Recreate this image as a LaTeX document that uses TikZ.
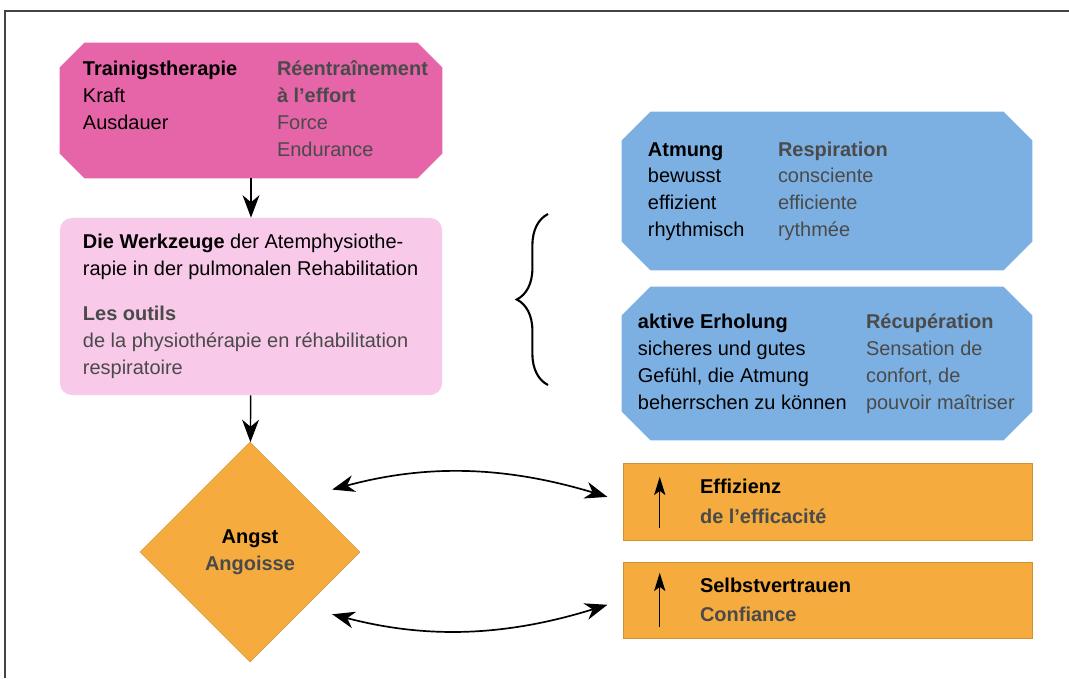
\documentclass[tikz,border=0pt]{standalone}
\usepackage{fontspec}
\setmainfont{Liberation Sans}
\usetikzlibrary{shapes.geometric, arrows.meta, positioning, decorations.pathreplacing, calc}

\definecolor{trainpink}{HTML}{E565A8}
\definecolor{toolpink}{HTML}{F8C9E8}
\definecolor{breathblue}{HTML}{7DB0E2}
\definecolor{angstorange}{HTML}{F5AB3E}
\definecolor{frtext}{HTML}{4A4A4A}
\definecolor{framegrey}{HTML}{444444}

\newcommand{\frtxt}[1]{\textcolor{frtext}{#1}}
% fill a named box with cut corners: node, colour, cut
\newcommand{\chamfill}[3]{%
	\fill[#2] ([xshift=#3]#1.north west) -- ([xshift=-#3]#1.north east) -- ([yshift=-#3]#1.north east)
		-- ([yshift=#3]#1.south east) -- ([xshift=-#3]#1.south east) -- ([xshift=#3]#1.south west)
		-- ([yshift=#3]#1.south west) -- ([yshift=-#3]#1.north west) -- cycle;}

\begin{document}
\begin{tikzpicture}[x=0.025cm, y=-0.025cm]

	\tikzstyle{trainbox} = [rectangle, minimum width=9.55cm, minimum height=3.375cm, inner sep=0pt]
	\tikzstyle{toolbox} = [rectangle, rounded corners=0.3cm, minimum width=9.55cm, minimum height=4.425cm, inner sep=0pt, fill=toolpink]
	\tikzstyle{bluebox} = [rectangle, minimum width=10.25cm, inner sep=0pt]
	\tikzstyle{orangebox} = [rectangle, minimum width=10.225cm, inner sep=0pt, fill=angstorange, draw=angstorange!85!black, line width=0.3pt]
	\tikzstyle{angstdia} = [diamond, aspect=1, minimum width=5.5cm, minimum height=5.5cm, inner sep=0pt, fill=angstorange, draw=angstorange!85!black, line width=0.3pt, align=center, font=\fontsize{14.2}{19.1}\selectfont\bfseries]
	\tikzstyle{boxtext} = [inner sep=0pt, align=left, font=\fontsize{14.2}{19.1}\selectfont]
	\tikzstyle{arrow} = [line width=1pt, -{Stealth[length=16pt, width=12pt, inset=5pt]}]
	\tikzstyle{dblarrow} = [line width=1.2pt, {Stealth[length=16pt, width=12pt, inset=5pt]}-{Stealth[length=16pt, width=12pt, inset=5pt]}]
	\tikzstyle{uparrow} = [line width=1pt, -{Stealth[length=13pt, width=8pt, inset=3pt]}]
	\tikzstyle{bracket} = [decorate, decoration={brace, amplitude=0.78cm}, line width=1.5pt]

	\useasboundingbox (0,0) rectangle (1069,678);
	\draw [framegrey, line width=1.4pt] (1069,11) -- (5,11) -- (5,678);

	% Nodes
	\node (train) [trainbox] at (251,110.5) {};
	\node (tools) [toolbox] at (251,306.5) {};
	\node (atm) [bluebox, minimum height=3.95cm] at (827,191) {};
	\node (erh) [bluebox, minimum height=3.825cm] at (827,363.5) {};
	\node (eff) [orangebox, minimum height=1.925cm] at (827.5,501.5) {};
	\node (conf) [orangebox, minimum height=1.9cm] at (827.5,600) {};
	\node (angst) [angstdia] at (250,552) {Angst\\\frtxt{Angoisse}};

	\chamfill{train}{trainpink}{0.62cm}
	\chamfill{atm}{breathblue}{0.72cm}
	\chamfill{erh}{breathblue}{0.72cm}

	% Texts
	\node (traintxt) [boxtext, right=0.575cm of train.west] {%
		\begin{tabular}{@{}p{4.85cm}@{}l@{}}
			\textbf{Trainigstherapie} & \frtxt{\textbf{Réentraînement}}\\
			Kraft & \frtxt{\textbf{à l’effort}}\\
			Ausdauer & \frtxt{Force}\\
			& \frtxt{Endurance}
		\end{tabular}};
	\node (toolstxt) [boxtext, right=0.575cm of tools.west] {%
		\textbf{Die Werkzeuge} der Atemphysiothe-\\
		rapie in der pulmonalen Rehabilitation\\[12.8pt]
		\frtxt{\textbf{Les outils}}\\
		\frtxt{de la physiothérapie en réhabilitation}\\
		\frtxt{respiratoire}};
	\node (atmtxt) [boxtext, right=0.65cm of atm.west] {%
		\begin{tabular}{@{}p{3.25cm}@{}l@{}}
			\textbf{Atmung} & \frtxt{\textbf{Respiration}}\\
			bewusst & \frtxt{consciente}\\
			effizient & \frtxt{efficiente}\\
			rhythmisch & \frtxt{rythmée}
		\end{tabular}};
	\node (erhtxt) [boxtext, right=0.4cm of erh.west] {%
		\begin{tabular}{@{}p{5.7cm}@{}l@{}}
			\textbf{aktive Erholung} & \frtxt{\textbf{Récupération}}\\
			sicheres und gutes & \frtxt{Sensation de}\\
			Gefühl, die Atmung & \frtxt{confort, de}\\
			beherrschen zu können & \frtxt{pouvoir maîtriser}
		\end{tabular}};
	\node (efftxt) [boxtext, right=1.925cm of eff.west] {%
		\textbf{Effizienz}\\[2pt]
		\frtxt{\textbf{de l’efficacité}}};
	\node (conftxt) [boxtext, right=1.925cm of conf.west] {%
		\textbf{Selbstvertrauen}\\[2pt]
		\frtxt{\textbf{Confiance}}};

	% Arrows
	\draw [arrow] (train) -- (tools);
	\draw [arrow] (tools) -- (angst);
	\draw [dblarrow, shorten <=0.7cm, shorten >=0.4cm] (angst.north east) to[bend left=16] (eff.west);
	\draw [dblarrow, shorten <=0.7cm, shorten >=0.4cm] (angst.south east) to[bend right=16] (conf.west);
	\draw [uparrow] ($(eff.south west)+(37,-12)$) -- ($(eff.north west)+(37,14)$);
	\draw [uparrow] ($(conf.south west)+(37,-11)$) -- ($(conf.north west)+(37,11)$);
	\draw [bracket] (548,385) -- (548,214);

\end{tikzpicture}
\end{document}
